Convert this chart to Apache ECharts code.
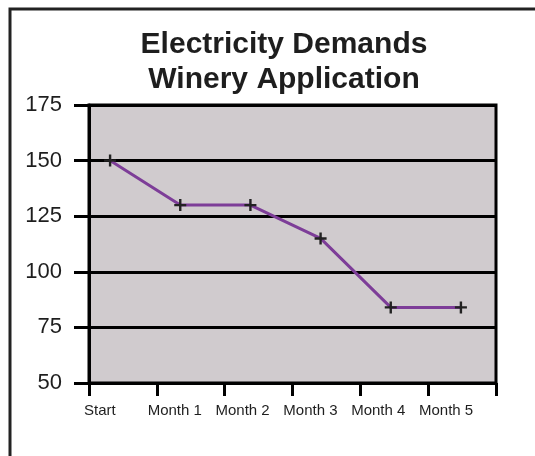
<!DOCTYPE html>
<html>
<head>
<meta charset="utf-8">
<script src="https://cdn.jsdelivr.net/npm/echarts@6/dist/echarts.min.js"></script>
<style>
html,body{margin:0;padding:0;background:#fff;}
#chart{width:535px;height:456px;}
</style>
</head>
<body>
<div id="chart"></div>
<script>
var titleText = 'Electricity Demands\nWinery Application';
var categories = ['Start', 'Month 1', 'Month 2', 'Month 3', 'Month 4', 'Month 5'];
var demand = [150, 130, 130, 115, 84, 84];
var yMin = 50, yMax = 175, yStep = 25;

var chart = echarts.init(document.getElementById('chart'), null, {renderer: 'canvas'});
var plus = 'path://M0,4H10V6H0ZM4,0H6V10H4Z';

chart.setOption({
  backgroundColor: '#ffffff',
  animation: false,
  title: {
    text: titleText,
    left: 279,
    top: 22,
    textAlign: 'center',
    textStyle: {
      fontFamily: 'Liberation Sans, Arial, sans-serif',
      fontSize: 30,
      fontWeight: 'bold',
      lineHeight: 35,
      color: '#1e1e1e'
    }
  },
  graphic: [{
    type: 'rect',
    silent: true,
    z: -10,
    shape: {x: 10, y: 9, width: 700, height: 700},
    style: {fill: 'none', stroke: '#222', lineWidth: 3}
  }],
  grid: [
    {left: 89, right: 39, top: 105, bottom: 73, show: true,
     backgroundColor: '#d0cbce', borderColor: '#000', borderWidth: 3},
    {left: 75, right: 39, top: 105, bottom: 73}
  ],
  xAxis: [
    {
      type: 'category', gridIndex: 0, data: categories, boundaryGap: true,
      axisLine: {show: true, lineStyle: {color: '#000', width: 3}},
      axisTick: {show: true, interval: 0, length: 13, lineStyle: {color: '#000', width: 3}},
      axisLabel: {
        interval: 0, hideOverlap: false,
        fontFamily: 'Liberation Sans, Arial, sans-serif', fontSize: 15, color: '#1e1e1e',
        margin: 20, padding: [0, 32, 0, 0],
        formatter: function (v, i) { return i === 0 ? '{s|' + v + '}' : v; },
        rich: {s: {fontFamily: 'Liberation Sans, Arial, sans-serif', fontSize: 15, color: '#1e1e1e', padding: [0, 14, 0, 0]}}
      },
      splitLine: {show: false}
    },
    {
      type: 'category', gridIndex: 1, data: categories, boundaryGap: true, show: false
    }
  ],
  yAxis: [
    {
      type: 'value', gridIndex: 0, min: yMin, max: yMax, interval: yStep,
      axisLine: {show: true, lineStyle: {color: '#000', width: 3}},
      axisTick: {show: true, length: 15, lineStyle: {color: '#000', width: 3}},
      axisLabel: {fontFamily: 'Liberation Sans, Arial, sans-serif', fontSize: 22, color: '#1e1e1e', margin: 27},
      splitLine: {show: true, lineStyle: {color: '#000', width: 3}}
    },
    {
      type: 'value', gridIndex: 1, min: yMin, max: yMax, interval: yStep, show: false,
      splitLine: {show: false}
    }
  ],
  series: [{
    type: 'line',
    xAxisIndex: 1,
    yAxisIndex: 1,
    data: demand,
    z: 10,
    lineStyle: {color: '#7d3d98', width: 3},
    symbol: plus,
    symbolSize: 12,
    showAllSymbol: true,
    itemStyle: {color: '#222222'}
  }]
});
</script>
</body>
</html>
